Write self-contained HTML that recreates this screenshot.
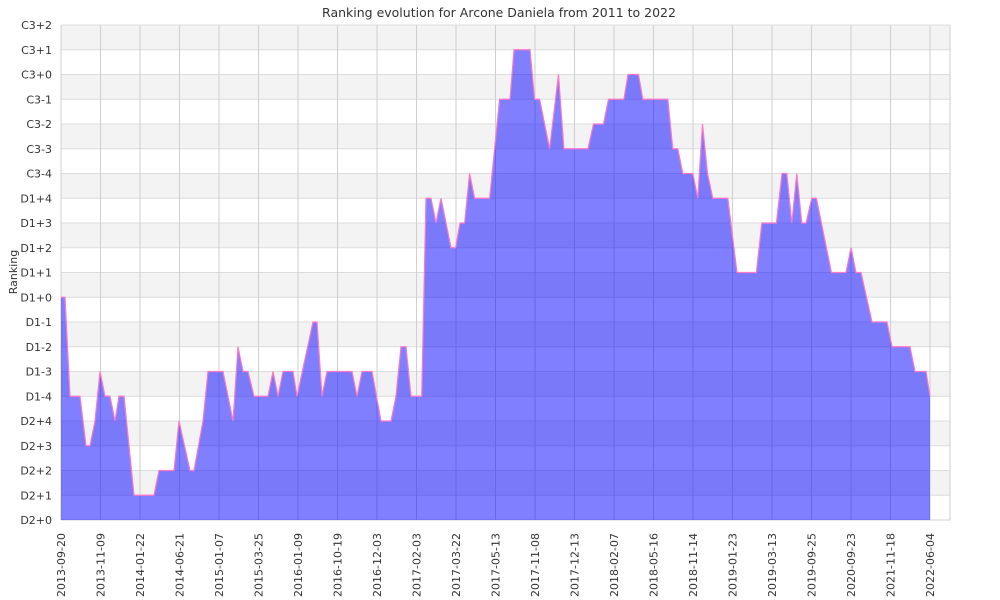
<!DOCTYPE html>
<html><head><meta charset="utf-8"><style>
html,body{margin:0;padding:0;background:#fff;}
svg{display:block;font-family:"DejaVu Sans","Liberation Sans",sans-serif;}
</style></head><body>
<svg id="c" width="1000" height="600" viewBox="0 0 1000 600" xmlns="http://www.w3.org/2000/svg">
<text x="499" y="17" font-size="12.5" text-anchor="middle" fill="#333">Ranking evolution for Arcone Daniela from 2011 to 2022</text>
<g id="bands"></g>
<g id="grid"></g>
<g id="area"></g>
<g id="labels" font-size="11" fill="#333"></g>
<text transform="translate(17,272) rotate(-90)" font-size="11" text-anchor="middle" fill="#333">Ranking</text>
</svg>
<script>
var NS="http://www.w3.org/2000/svg";
function el(p,t,a,txt){var e=document.createElementNS(NS,t);for(var k in a)e.setAttribute(k,a[k]);if(txt!=null)e.textContent=txt;document.getElementById(p).appendChild(e);return e;}
var L=61,R=950,T=25,B=520,step=(B-T)/20;
function Y(l){return B-l*step;}
var ylab=["D2+0","D2+1","D2+2","D2+3","D2+4","D1-4","D1-3","D1-2","D1-1","D1+0","D1+1","D1+2","D1+3","D1+4","C3-4","C3-3","C3-2","C3-1","C3+0","C3+1","C3+2"];
for(var i=0;i<20;i++){ if(i%2==1) el("bands","rect",{x:L,y:Y(i+1),width:R-L,height:step,fill:"#f3f3f3"}); }
for(var i=0;i<=20;i++){ el("grid","line",{x1:L,x2:R,y1:Y(i),y2:Y(i),stroke:"#dcdcdc","stroke-width":1});
 el("labels","text",{x:52,y:Y(i)+4,"text-anchor":"end"},ylab[i]); }
var xl=["2013-09-20","2013-11-09","2014-01-22","2014-06-21","2015-01-07","2015-03-25","2016-01-09","2016-10-19","2016-12-03","2017-02-03","2017-03-22","2017-05-13","2017-11-08","2017-12-13","2018-02-07","2018-05-16","2018-11-14","2019-01-23","2019-03-13","2019-09-25","2020-09-23","2021-11-18","2022-06-04"];
var gs=(930-61)/22;
for(var i=0;i<xl.length;i++){var x=61+i*gs;
 el("grid","line",{x1:x,x2:x,y1:T,y2:B,stroke:"#cfcfcf","stroke-width":1});
 el("labels","text",{transform:"translate("+(x+4)+",533) rotate(-90)","text-anchor":"end"},xl[i]);}
el("grid","line",{x1:R,x2:R,y1:T,y2:B,stroke:"#cfcfcf"});
el("grid","line",{x1:L,x2:R,y1:T,y2:T,stroke:"#dcdcdc"});
el("grid","line",{x1:L,x2:R,y1:B,y2:B,stroke:"#cfcfcf"});
el("grid","line",{x1:L,x2:L,y1:T,y2:B,stroke:"#cfcfcf"});
var P=[[61,9],[65,9],[70,5],[80,5],[86,3],[90,3],[95,4],[100,6],[105,5],[110,5],[115,4],[119,5],[124,5],[134,1],[154,1],[159,2],[174,2],[179,4],[190,2],[194,2],[203,4],[208,6],[223,6],[233,4],[238,7],[243,6],[248,6],[254,5],[268,5],[273,6],[278,5],[283,6],[293,6],[297,5],[313,8],[317,8],[322,5],[327,6],[352,6],[357,5],[362,6],[372,6],[381,4],[391,4],[396,5],[401,7],[406,7],[411,5],[421.7,5],
[426,13],[431,13],[436,12],[441,13],[451,11],[455.6,11],[460,12],[464.6,12],[469.6,14],[474.6,13],[489.6,13],[499.6,17],[510,17],[514,19],[530,19],[534.6,17],[539.6,17],[549.6,15],[558.5,18],[563.9,15],[568.9,15],[588,15],[593.5,16],[603.5,16],[608.5,17],[623.9,17],[628,18],[638.5,18],[642.8,17],[667.8,17],[672.8,15],[677.8,15],[682.8,14],[692.8,14],[697.8,13],[702.5,16],[707.5,14],[712.8,13],[727.8,13],[737,10],[756.4,10],[761.8,12],[776.4,12],[782,14],[786.8,14],[791.8,12],[796.8,14],[801.8,12],[806,12],[811.8,13],[816.4,13],[831.4,10],[846,10],[851,11],[856,10],[861,10],[872,8],[887,8],[892,7],[910,7],[915,6],[926,6],[930,5]];
var d="M61,"+B;var ln="";
P.forEach(function(p,i){var s=p[0]+","+Y(p[1]).toFixed(2);d+=" L"+s;ln+=(i?" L":"M")+s;});
d+=" L930,"+B+" Z";
el("area","path",{d:d,fill:"rgba(0,0,255,0.5)"});
el("area","path",{d:ln,fill:"none",stroke:"#ff77c8","stroke-width":1.2});
</script>
</body></html>
